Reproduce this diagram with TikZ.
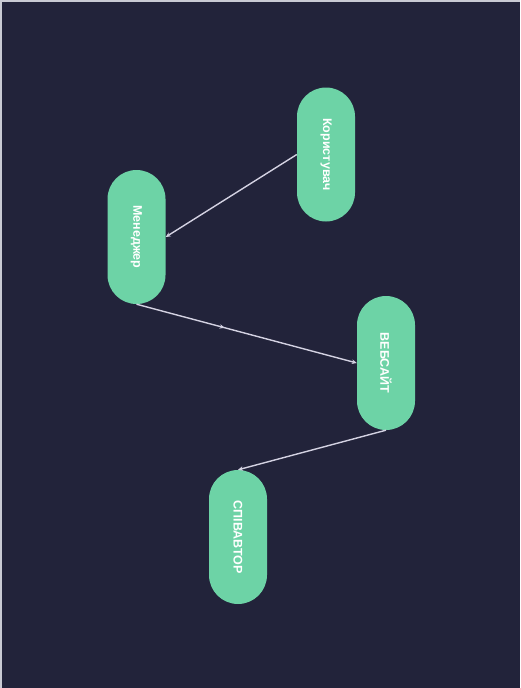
\documentclass[tikz,border=0pt]{standalone}
\usepackage{fontspec}
\setmainfont{Liberation Sans}
\usetikzlibrary{arrows.meta,decorations.markings}
\definecolor{bgnavy}{HTML}{22233A}
\definecolor{mint}{HTML}{6DD3A6}
\definecolor{edgegray}{HTML}{D4D2E2}
\definecolor{frame}{HTML}{C9CAD3}
\tikzset{
  role/.style={draw=none, fill=mint, rounded corners=29pt,
    minimum width=134pt, minimum height=58pt, inner sep=0pt,
    rotate=-90, text=white, font=\bfseries\fontsize{12.5}{14}\selectfont},
  link/.style={draw=edgegray, line width=1.4pt,
    -{Stealth[length=5pt,width=4.5pt]}},
  midtip/.style={postaction={decorate}, decoration={markings,
    mark=at position 0.4 with {\arrow{Stealth[length=5pt,width=4.5pt]}}}}
}
\begin{document}
\begin{tikzpicture}[x=1pt,y=-1pt]
  % canvas
  \fill[bgnavy] (0,0) rectangle (520,688);
  \useasboundingbox (0,0) rectangle (520,688);
  \draw[frame, line width=2pt] (1,688) -- (1,1) -- (520,1);

  % roles (rotated: south = left side, north = right side,
  % west = top end, east = bottom end)
  \node[role] (user) at (326,154.5) {Користувач};
  \node[role] (mgr)  at (136.5,237) {Менеджер};
  \node[role] (web)  at (386,363)   {ВЕБСАЙТ};
  \node[role] (coauth) at (238,537) {СПІВАВТОР};

  % connections
  \draw[link] (user.south) -- (mgr.north);
  \draw[link, midtip] (mgr.east) -- (web.south);
  \draw[link] (web.east) -- (coauth.west);
\end{tikzpicture}
\end{document}
